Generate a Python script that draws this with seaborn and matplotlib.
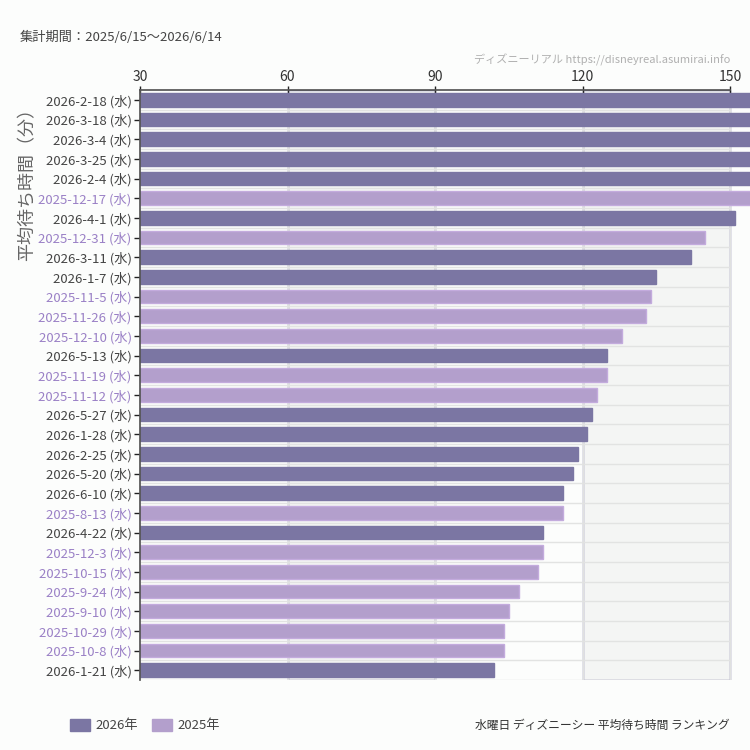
import pandas as pd
import numpy as np
import matplotlib.pyplot as plt
import seaborn as sns

# データ（水曜日 ディズニーシー 平均待ち時間）
dates = ['2026-2-18', '2026-3-18', '2026-3-4', '2026-3-25', '2026-2-4', '2025-12-17',
         '2026-4-1', '2025-12-31', '2026-3-11', '2026-1-7', '2025-11-5', '2025-11-26',
         '2025-12-10', '2026-5-13', '2025-11-19', '2025-11-12', '2026-5-27', '2026-1-28',
         '2026-2-25', '2026-5-20', '2026-6-10', '2025-8-13', '2026-4-22', '2025-12-3',
         '2025-10-15', '2025-9-24', '2025-9-10', '2025-10-29', '2025-10-8', '2026-1-21']
minutes = [170, 166, 163, 160, 158, 156,
           151, 145, 142, 135, 134, 133,
           128, 125, 125, 123, 122, 121,
           119, 118, 116, 116, 112, 112,
           111, 107, 105, 104, 104, 102]
years = [d.split('-')[0] + '年' for d in dates]
labels = [d + ' (水)' for d in dates]
xticks = [30, 60, 90, 120, 150]

colores = {'2026年': '#7b76a3', '2025年': '#b39fcc'}
bordes = {'2026年': '#7b76a3', '2025年': '#c3abdd'}
color_texto = {'2026年': '#444444', '2025年': '#9a80c6'}

df = pd.DataFrame({'label': labels, 'minutes': minutes, 'year': years})

sns.set_theme(style='white')
plt.rcParams['font.family'] = ['Noto Sans CJK JP', 'DejaVu Sans']

fig = plt.figure(figsize=(7.5, 7.5), dpi=100, facecolor='#fcfdfc')
ax = fig.add_axes([140 / 750, 1 - 680 / 750, 610 / 750, 590 / 750])
ax.set_facecolor('#fcfdfc')

# 背景の帯とグリッド
ax.axvspan(60, 90, color='#f4f5f4', zorder=0)
ax.axvspan(120, 150, color='#f4f5f4', zorder=0)
n = len(labels)
ax.hlines(np.arange(n) + 0.5, 30, 150, color='#e2e3e2', lw=1, zorder=0.5)
for x in xticks[1:]:
    ax.axvline(x, color='#e0e1e0', lw=1, zorder=0.5)

sns.barplot(data=df, y='label', x='minutes', hue='year', dodge=False,
            palette=colores, order=labels, width=0.68, ax=ax, legend=False,
            saturation=1, zorder=2)
for patch in ax.patches:
    if patch.get_height() == 0:
        continue
    yi = int(round(patch.get_y() + patch.get_height() / 2))
    if 0 <= yi < n:
        patch.set_edgecolor(bordes[years[yi]])
        patch.set_linewidth(1)

ax.set_xlim(30, 30 + 610 / (590 / 120))
ax.set_ylim(n - 0.5, -0.5)
ax.set_xticks(xticks)
ax.xaxis.tick_top()
ax.tick_params(axis='x', direction='inout', length=6, width=1, color='#222222',
               labelsize=10, labelcolor='#333333', pad=1)
ax.tick_params(axis='y', direction='out', length=4, width=1, color='#222222',
               labelsize=9.5, pad=2, left=True)
for t, y in zip(ax.get_yticklabels(), years):
    t.set_color(color_texto[y])
ax.set_xlabel('')
ax.set_ylabel('')
for s in ['right', 'bottom']:
    ax.spines[s].set_visible(False)
ax.spines['top'].set_bounds(30, 150)
ax.spines['top'].set_color('#555555')
ax.spines['left'].set_color('#555555')

fig.text(27 / 750, 1 - 180 / 750, '平均待ち時間（分）', rotation=90, ha='center',
         va='center', fontsize=13, color='#666666')
fig.text(20 / 750, 1 - 37 / 750, '集計期間：2025/6/15〜2026/6/14', ha='left',
         va='center', fontsize=9.5, color='#444444')
fig.text(730 / 750, 1 - 60 / 750, 'ディズニーリアル https://disneyreal.asumirai.info',
         ha='right', va='center', fontsize=8, color='#b0b0b0')
fig.text(730 / 750, 1 - 725 / 750, '水曜日 ディズニーシー 平均待ち時間 ランキング',
         ha='right', va='center', fontsize=8.5, color='#333333')

# 凡例
x0 = 70
for y in ['2026年', '2025年']:
    fig.patches.append(plt.Rectangle((x0 / 750, 1 - 731 / 750), 20 / 750, 12 / 750,
                                     transform=fig.transFigure, color=colores[y]))
    fig.text((x0 + 25) / 750, 1 - 725 / 750, y, ha='left', va='center',
             fontsize=9.5, color='#444444')
    x0 += 82

fig.savefig('out.png', dpi=100, facecolor=fig.get_facecolor())
